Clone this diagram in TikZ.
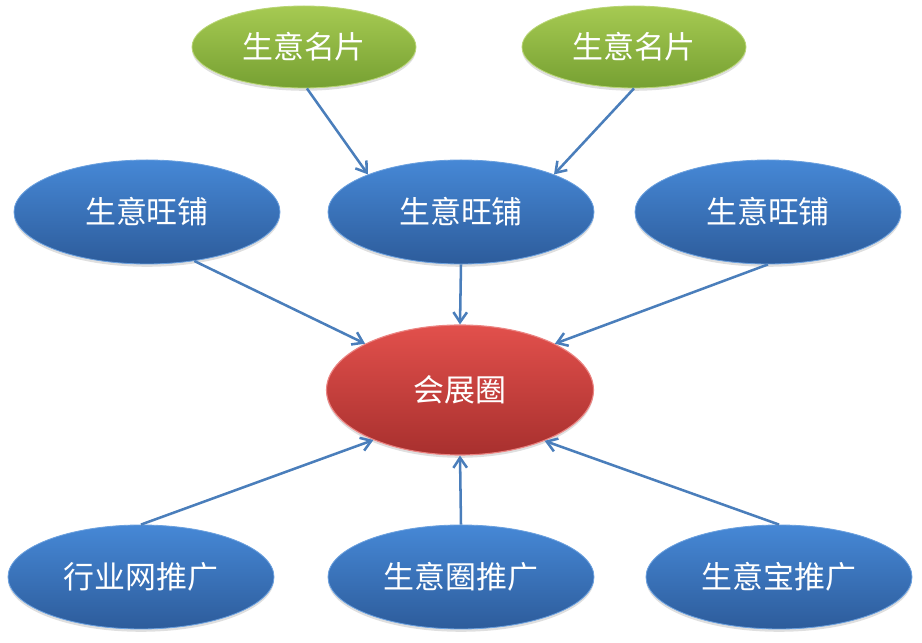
\documentclass[tikz,border=0pt]{standalone}
\usepackage{fontspec}
\setmainfont{Noto Sans CJK SC}
\usetikzlibrary{shapes.geometric,shadows,arrows.meta}
\definecolor{arrowblue}{HTML}{4A7EBB}
\definecolor{bluetop}{HTML}{4688D6}
\definecolor{bluebot}{HTML}{2D5C9B}
\definecolor{greentop}{HTML}{A6CA52}
\definecolor{greenbot}{HTML}{76A032}
\definecolor{redtop}{HTML}{E2504C}
\definecolor{redbot}{HTML}{A8302E}
\begin{document}
\begin{tikzpicture}[
        every node/.style={ellipse, inner sep=0pt, text=white, font=\fontsize{22}{26}\selectfont,
          drop shadow={opacity=0.25, shadow xshift=0pt, shadow yshift=-0.07cm}},
        shopnode/.style={minimum width=6.65cm, minimum height=2.6cm, top color=bluetop, bottom color=bluebot, draw=bluetop!80!white, line width=0.6pt},
        cardnode/.style={minimum width=5.6cm, minimum height=2.05cm, top color=greentop, bottom color=greenbot, draw=greentop!80!white, line width=0.6pt},
        hubnode/.style={minimum width=6.675cm, minimum height=3.25cm, top color=redtop, bottom color=redbot, draw=redtop!70!white, line width=0.8pt},
        link/.style={draw=arrowblue, line width=1.8pt, -{Straight Barb[length=2.5mm, width=3.4mm]}}
      ]
      \useasboundingbox (0,0) rectangle (23.05,16.075);
      \node[cardnode] (card1) at (7.6,14.9) {生意名片};
      \node[cardnode] (card2) at (15.85,14.9) {生意名片};
      \node[shopnode] (shop1) at (3.675,10.775) {生意旺铺};
      \node[shopnode] (shop2) at (11.525,10.775) {生意旺铺};
      \node[shopnode] (shop3) at (19.2,10.775) {生意旺铺};
      \node[hubnode] (hub) at (11.5,6.325) {会展圈};
      \node[shopnode] (promo1) at (3.525,1.65) {行业网推广};
      \node[shopnode] (promo2) at (11.525,1.65) {生意圈推广};
      \node[shopnode] (promo3) at (19.475,1.65) {生意宝推广};
      \draw[link] (card1.-86) -- (shop2.158);
      \draw[link] (card2.south) -- (shop2.22);
      \draw[link] (shop1.-46) -- (hub.154);
      \draw[link] (shop2.south) -- (hub.north);
      \draw[link] (shop3.south) -- (hub.26);
      \draw[link] (promo1.north) -- (hub.210);
      \draw[link] (promo2.north) -- (hub.south);
      \draw[link] (promo3.north) -- (hub.-31);
    \end{tikzpicture}
\end{document}
